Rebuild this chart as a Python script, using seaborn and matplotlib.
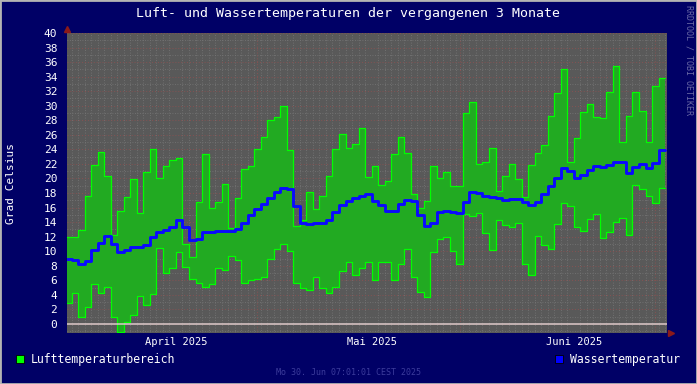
import pandas as pd
import matplotlib
matplotlib.use("Agg")
import matplotlib.pyplot as plt
import matplotlib.dates as mdates
from matplotlib.ticker import MultipleLocator
from matplotlib.patches import Rectangle
import seaborn as sns

# daily values, first day = 30. Maerz 2025
start_day = "2025-03-30"
air_max = [12.0, 12.0, 12.9, 17.6, 21.8, 23.6, 20.3, 12.2, 15.5, 17.4,
           19.9, 15.3, 20.9, 24.0, 20.1, 21.7, 22.6, 22.8, 11.0, 9.25,
           16.7, 23.3, 15.9, 16.7, 19.3, 13.15, 17.3, 21.3, 21.7, 24.0,
           25.7, 28.1, 28.4, 30.0, 23.9, 13.5, 14.3, 18.1, 15.8, 17.6,
           20.4, 24.0, 26.1, 24.2, 24.8, 27.0, 20.2, 21.7, 19.1, 19.6,
           23.4, 25.7, 23.45, 17.9, 15.9, 16.9, 21.7, 20.1, 20.9, 19.0,
           19.0, 29.0, 30.5, 22.0, 22.2, 24.15, 18.3, 20.35, 22.0, 19.9,
           17.5, 21.85, 23.45, 24.6, 28.6, 31.7, 35.0, 22.2, 25.5, 29.1,
           30.25, 28.5, 28.3, 31.9, 35.5, 25.0, 28.6, 31.9, 29.3, 25.0,
           32.7, 33.8]
air_min = [2.85, 4.3, 1.0, 2.4, 5.5, 4.3, 5.1, 0.9, -1.05, 0.3,
           1.3, 3.9, 2.55, 4.15, 10.4, 6.95, 7.65, 9.85, 7.9, 6.25,
           5.6, 5.1, 5.45, 7.75, 7.4, 9.4, 8.8, 5.7, 6.05, 6.2,
           6.5, 9.0, 10.25, 10.95, 10.0, 5.7, 5.0, 4.7, 6.5, 5.0,
           4.2, 5.1, 7.3, 8.5, 6.8, 7.65, 8.55, 6.05, 8.5, 8.55,
           6.1, 8.3, 10.25, 6.4, 4.35, 3.75, 9.95, 11.65, 11.9, 10.1,
           8.2, 15.1, 14.9, 15.2, 12.55, 10.2, 14.3, 13.6, 13.4, 13.9,
           8.2, 6.8, 12.15, 10.85, 10.25, 13.7, 16.6, 16.2, 13.4, 12.8,
           14.4, 15.1, 11.8, 12.6, 14.0, 14.5, 12.25, 19.05, 18.5, 17.6,
           16.6, 18.65]
water = [8.9, 8.75, 8.3, 8.6, 10.2, 11.2, 12.1, 11.0, 9.9, 10.2,
         10.6, 10.55, 10.85, 12.0, 12.6, 12.9, 13.3, 14.25, 13.35, 11.6,
         11.7, 12.6, 12.7, 12.8, 12.8, 12.85, 13.0, 13.9, 15.0, 15.8,
         16.55, 17.3, 18.1, 18.65, 18.5, 16.2, 13.95, 13.7, 13.85, 13.95,
         14.35, 15.35, 16.3, 16.95, 17.3, 17.6, 17.9, 16.95, 16.35, 15.5,
         15.5, 16.5, 17.1, 16.9, 15.0, 13.5, 13.85, 15.45, 15.5, 15.45,
         15.3, 16.7, 18.2, 17.95, 17.6, 17.4, 17.25, 17.05, 17.2, 17.2,
         16.8, 16.3, 16.8, 17.8, 18.9, 20.1, 21.4, 21.0, 20.0, 20.5,
         21.15, 21.75, 21.6, 21.85, 22.3, 22.3, 20.8, 21.6, 21.95, 21.5,
         22.1, 23.9]

month_labels = ["April 2025", "Mai 2025", "Juni 2025"]
month_label_dates = ["2025-04-16", "2025-05-16", "2025-06-16"]
red_grid_dates = ["2025-04-28 12:00", "2025-05-29 12:00", "2025-06-28 12:00"]

NAVY = "#000066"
PLOT_BG = "#595959"
GREEN_FILL = "#22aa22"
GREEN_EDGE = "#00ff00"
BLUE = "#0a0aff"

days = pd.date_range(start_day, periods=len(water), freq="D")
edges = days.append(pd.DatetimeIndex([days[-1] + pd.Timedelta(days=1)]))
df = pd.DataFrame({
    "t": edges,
    "max": air_max + air_max[-1:],
    "min": air_min + air_min[-1:],
    "water": water + water[-1:],
})

sns.set_style("dark")
plt.rcParams["font.family"] = ["DejaVu Sans Mono"]

fig = plt.figure(figsize=(6.97, 3.84), dpi=100, facecolor=NAVY)
ax = fig.add_axes([67 / 697, 51 / 384, 600 / 697, 300 / 384])
ax.set_facecolor(PLOT_BG)

ax.fill_between(df["t"], df["min"], df["max"], step="post",
                color=GREEN_FILL, lw=0, zorder=2)
sns.lineplot(data=df, x="t", y="max", drawstyle="steps-post", color=GREEN_EDGE,
             lw=0.9, ax=ax, zorder=3)
sns.lineplot(data=df, x="t", y="min", drawstyle="steps-post", color=GREEN_EDGE,
             lw=0.9, ax=ax, zorder=3)
sns.lineplot(data=df, x="t", y="water", drawstyle="steps-post", color=BLUE,
             lw=2.1, ax=ax, zorder=5)

ax.axhline(0, color="#dccaca", lw=1.1, zorder=4)

ax.set_xlim(pd.Timestamp("2025-03-30 07:01"), pd.Timestamp("2025-06-30 07:01"))
ax.set_ylim(-1.24, 40)

# grid
ax.yaxis.set_major_locator(MultipleLocator(2))
ax.yaxis.set_minor_locator(MultipleLocator(1))
ax.xaxis.set_minor_locator(mdates.DayLocator())
ax.set_xticks(pd.to_datetime(month_label_dates))
ax.set_xticklabels(month_labels)
ax.grid(False)
ax.grid(which="minor", axis="both", color="#777777", ls=(0, (1, 2)), lw=0.6, zorder=1)
ax.grid(which="major", axis="y", color="#855252", ls=(0, (1, 2)), lw=0.7, zorder=1)
for d in pd.to_datetime(red_grid_dates):
    ax.axvline(d, color="#855252", ls=(0, (1, 2)), lw=0.7, zorder=1)

ax.tick_params(axis="y", which="major", labelsize=8, labelcolor="white",
               colors="#7a2020", length=3, pad=4, direction="out")
ax.tick_params(axis="y", which="minor", colors="#7a2020", length=2)
ax.tick_params(axis="x", which="major", labelsize=7.5, labelcolor="white",
               length=0, pad=3)
ax.tick_params(axis="x", which="minor", colors="#333333", length=2)
for tl in ax.get_yticklabels():
    tl.set_color("white")
ax.set_xlabel("")
ax.set_ylabel("")
for s in ax.spines.values():
    s.set_visible(False)

# axis arrows
ax.plot([0], [1.013], marker="^", ms=5, color="#8b1a1a", transform=ax.transAxes, clip_on=False)
ax.plot([1.007], [0.0], marker=">", ms=5, color="#8b1a1a", transform=ax.transAxes, clip_on=False)

# texts
fig.text(0.5, 1 - 14 / 384, "Luft- und Wassertemperaturen der vergangenen 3 Monate",
         color="white", fontsize=9.5, ha="center", va="center")
fig.text(11 / 697, 1 - 183 / 384, "Grad Celsius", color="white", fontsize=8,
         rotation=90, ha="center", va="center")
fig.text(689 / 697, 1 - 5 / 384, "RRDTOOL / TOBI OETIKER", color="#6a6aa6",
         fontsize=6, rotation=270, ha="center", va="top")
fig.text(348.5 / 697, 1 - 372.5 / 384, "Mo 30. Jun 07:01:01 CEST 2025",
         color="#3c3c9c", fontsize=6, ha="center", va="center")

# legend
fig.patches.append(Rectangle((16 / 697, 1 - 363 / 384), 8 / 697, 8 / 384,
                             transform=fig.transFigure, facecolor=GREEN_EDGE,
                             edgecolor="black", lw=0.6))
fig.text(30.5 / 697, 1 - 359 / 384, "Lufttemperaturbereich", color="white",
         fontsize=8.3, ha="left", va="center")
fig.patches.append(Rectangle((554.5 / 697, 1 - 363 / 384), 8 / 697, 8 / 384,
                             transform=fig.transFigure, facecolor="#0000ff",
                             edgecolor="black", lw=0.6))
fig.text(569.5 / 697, 1 - 359 / 384, "Wassertemperatur", color="white",
         fontsize=8.3, ha="left", va="center")

# frame round the image
fig.patches.append(Rectangle((0, 0), 1, 1, transform=fig.transFigure, fill=False,
                             edgecolor="#b4b4b4", lw=2.0))

fig.savefig("out.png", dpi=100, facecolor=NAVY)
